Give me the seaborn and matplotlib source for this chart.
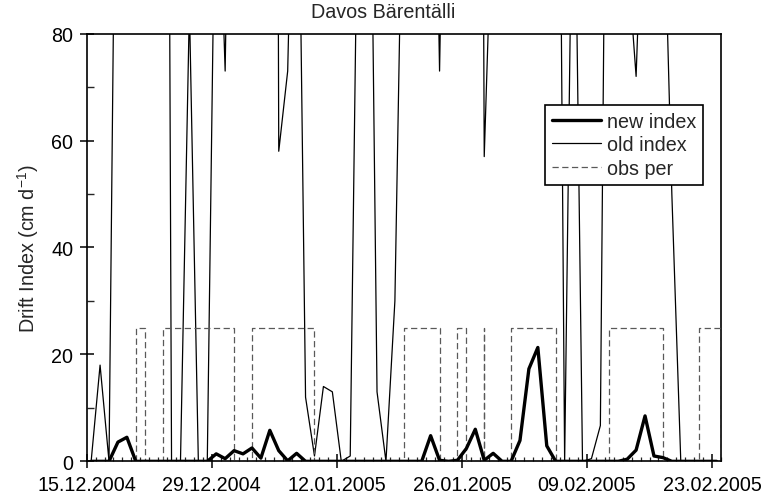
import numpy as np
import pandas as pd
import matplotlib
matplotlib.use("Agg")
import matplotlib.pyplot as plt
import matplotlib.dates as mdates
import seaborn as sns

# Daily drift index records (taken at noon), Davos Bärentälli, winter 2004/05
record_times = pd.date_range("2004-12-15 12:00", periods=71, freq="D")

new_index = [
    0, 0, 0, 3.6, 4.5, 0, 0, 0, 0, 0,
    0, 0, 0, 0, 1.4, 0.5, 2.0, 1.4, 2.5, 0.6,
    5.8, 2.0, 0.1, 1.5, 0, 0, 0, 0, 0, 0,
    0, 0, 0, 0, 0, 0, 0, 0, 4.8, 0.2,
    0, 0.2, 2.4, 6.0, 0.2, 1.5, 0, 0, 3.9, 17.3,
    21.3, 2.9, 0, 0, 0, 0, 0, 0, 0, 0,
    0.4, 2.1, 8.5, 1.0, 0.7, 0, 0, 0, 0, 0,
    0,
]

old_index = [
    0, 18, 0, 166, 250, 300, 280, 320, 400, 0,
    0, 85, 0, 0, 125, 73, 180, 220, 260, 240,
    600, 58, 73, 145, 12, 1, 14, 13, 0, 1,
    130, 160, 13, 0, 30, 125, 210, 260, 170, 73,
    170, 250, 300, 450, 57, 110, 200, 250, 300, 260,
    230, 220, 220, 0, 130, 0, 0.5, 6.7, 200, 250,
    95, 72, 120, 200, 113, 50, 0, 0, 0, 0,
    0,
]

# Observation periods (start, end); the last one runs to the end of the record
obs_start = ["2004-12-20 12:00", "2004-12-23 12:00", "2005-01-02 12:00",
             "2005-01-19 12:00", "2005-01-25 12:00", "2005-01-28 12:00",
             "2005-01-31 12:00", "2005-02-11 12:00", "2005-02-21 12:00"]
obs_end = ["2004-12-21 12:00", "2004-12-31 12:00", "2005-01-09 12:00",
           "2005-01-23 12:00", "2005-01-26 12:00", "2005-01-28 12:00",
           "2005-02-05 12:00", "2005-02-17 12:00", "2005-02-24 00:00"]
obs_level = 25

tick_dates = pd.date_range("2004-12-15", "2005-02-23", freq="14D")
x_range = (pd.Timestamp("2004-12-15"), pd.Timestamp("2005-02-24"))

# Rectangular outline of the observation periods
obs_x, obs_y = [], []
for s, e in zip(pd.to_datetime(obs_start), pd.to_datetime(obs_end)):
    obs_x += [s, s, e, e]
    obs_y += [0, obs_level, obs_level, 0]

daily = pd.DataFrame({"time": record_times, "new": new_index, "old": old_index})
obs = pd.DataFrame({"time": obs_x, "level": obs_y})

sns.set_style("ticks")
plt.rcParams["font.family"] = ["Liberation Sans", "DejaVu Sans"]
plt.rcParams["mathtext.default"] = "regular"
plt.rcParams["lines.scale_dashes"] = False
plt.rcParams["axes.linewidth"] = 1.2
plt.rcParams["axes.edgecolor"] = "black"

fs = 14.2
fig, ax = plt.subplots(figsize=(7.67, 5.02), dpi=100)
fig.subplots_adjust(left=0.113, right=0.940, top=0.931, bottom=0.079)

sns.lineplot(data=daily, x="time", y="old", ax=ax, color="black", lw=0.9,
             estimator=None, sort=False, label="old index", zorder=2)
sns.lineplot(data=obs, x="time", y="level", ax=ax, color="0.35", lw=0.9,
             estimator=None, sort=False, label="obs per", zorder=3,
             dashes=False)
ax.lines[-1].set_dashes((4.5, 2.5))
sns.lineplot(data=daily, x="time", y="new", ax=ax, color="black", lw=2.4,
             estimator=None, sort=False, label="new index", zorder=4)

ax.set_xlim(*x_range)
ax.set_ylim(0, 80)
ax.set_xticks(tick_dates)
ax.xaxis.set_major_formatter(mdates.DateFormatter("%d.%m.%Y"))
ax.xaxis.set_minor_locator(mdates.DayLocator())
ax.set_yticks([0, 20, 40, 60, 80])
ax.set_yticks(np.arange(0, 81, 10), minor=True)

ax.tick_params(which="major", direction="inout", length=9.5, width=1.1,
               labelsize=fs, colors="black", pad=5)
ax.tick_params(axis="x", which="minor", direction="in", length=3, width=0.9)
ax.tick_params(axis="y", which="minor", direction="in", length=5, width=1.0)

for sp in ax.spines.values():
    sp.set_visible(True)
    sp.set_linewidth(1.2)
    sp.set_color("black")

ax.set_xlabel("")
ax.set_ylabel("Drift Index (cm d$^{-1}$)", fontsize=fs, labelpad=7)
# title centred on the figure rather than on the axes
ax.set_title("Davos Bärentälli", fontsize=fs, pad=12, x=0.468)

handles, labels = ax.get_legend_handles_labels()
order = [labels.index(n) for n in ["new index", "old index", "obs per"]]
leg = ax.legend([handles[i] for i in order], [labels[i] for i in order],
                loc="upper right", bbox_to_anchor=(0.9716, 0.833),
                fontsize=fs, frameon=True, fancybox=False, framealpha=1,
                edgecolor="black", handlelength=2.5, handletextpad=0.3,
                labelspacing=0.22, borderpad=0.35, borderaxespad=0)
leg.get_frame().set_linewidth(1.2)
leg.set_zorder(10)

fig.savefig("out.png", dpi=100)
